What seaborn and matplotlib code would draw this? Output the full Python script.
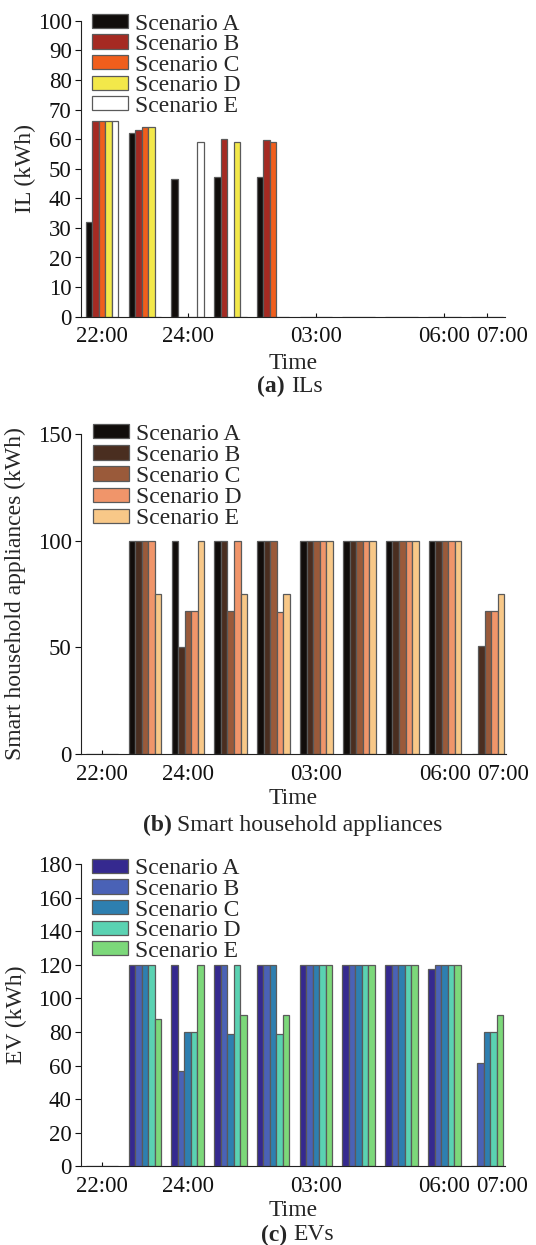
import numpy as np
import pandas as pd
import matplotlib
matplotlib.use("Agg")
import matplotlib.pyplot as plt
import matplotlib.transforms as mtransforms
import seaborn as sns

times = ['22:00', '23:00', '24:00', '01:00', '02:00', '03:00', '04:00', '05:00', '06:00', '07:00']
shown_ticks = ['22:00', '24:00', '03:00', '06:00', '07:00']
scenarios = ['Scenario A', 'Scenario B', 'Scenario C', 'Scenario D', 'Scenario E']

il_A = [32, 62, 46.4, 47.2, 47.2, 0, 0, 0, 0, 0]
il_B = [66, 63, 0, 60, 59.7, 0, 0, 0, 0, 0]
il_C = [66, 64, 0, 0, 59.1, 0, 0, 0, 0, 0]
il_D = [66, 64, 0, 59, 0, 0, 0, 0, 0, 0]
il_E = [66, 0, 59, 0, 0, 0, 0, 0, 0, 0]

sha_A = [0, 100, 100, 100, 100, 100, 100, 100, 100, 0]
sha_B = [0, 100, 50, 100, 100, 100, 100, 100, 100, 50.5]
sha_C = [0, 100, 67, 67, 100, 100, 100, 100, 100, 67]
sha_D = [0, 100, 67, 100, 66.5, 100, 100, 100, 100, 67]
sha_E = [0, 75, 100, 75, 75, 100, 100, 100, 100, 75]

ev_A = [0, 120, 120, 120, 120, 120, 120, 120, 117.6, 0]
ev_B = [0, 120, 56.5, 120, 120, 120, 120, 120, 120, 61.3]
ev_C = [0, 120, 80, 79, 120, 120, 120, 120, 120, 80]
ev_D = [0, 120, 80, 120, 79, 120, 120, 120, 120, 80]
ev_E = [0, 88, 120, 90, 90, 120, 120, 120, 120, 90]

pal_a = ['#110d0b', '#a52a22', '#f05e1c', '#f3e84a', '#ffffff']
pal_b = ['#110d0b', '#4a2e20', '#9a5a3a', '#f0956a', '#f8c888']
pal_c = ['#35298f', '#4a62b6', '#2e7fb0', '#5ad2b2', '#7cd87a']

sns.set_theme(style='ticks')
plt.rcParams['font.family'] = ['Liberation Serif', 'DejaVu Serif']
plt.rcParams['font.size'] = 17

W, H = 536, 1245
FS = 17
TFS = 16.5
fig = plt.figure(figsize=(W / 100, H / 100), dpi=100)


def px_axes(left, top, right, bottom):
    return fig.add_axes([left / W, 1 - bottom / H, (right - left) / W, (bottom - top) / H])


def make_df(series):
    rows = []
    for sc, vals in zip(scenarios, series):
        for t, v in zip(times, vals):
            rows.append({'time': t, 'scenario': sc, 'value': v})
    return pd.DataFrame(rows)


def panel(ax, box, series, pal, ylim, yticks, ylabel, ylab_x, xlab_px, leg_left_px, leg_top_px, lsp):
    left, top, right, bottom = box
    hpx = bottom - top
    wpx = right - left
    df = make_df(series)
    sns.barplot(data=df, x='time', y='value', hue='scenario', order=times,
                hue_order=scenarios, palette=pal, saturation=1, width=0.76,
                edgecolor='#5a5a5a', linewidth=0.9, errorbar=None, ax=ax)
    ax.set_xlim(-0.5, 9.42)
    ax.set_ylim(*ylim)
    ax.set_yticks(yticks)
    pos = [times.index(t) for t in shown_ticks]
    ax.set_xticks(pos)
    ax.set_xticklabels(shown_ticks)
    ax.tick_params(axis='x', direction='in', length=3, width=0.8, pad=7, labelsize=TFS, colors='#111111')
    ax.tick_params(axis='y', direction='out', length=4, width=0.8, pad=2.5, labelsize=TFS, colors='#111111')
    # the last label is nudged right in the reference so it does not touch its neighbour
    last = ax.get_xticklabels()[-1]
    last.set_transform(last.get_transform() + mtransforms.ScaledTranslation(15 / 100, 0, fig.dpi_scale_trans))
    for s in ['top', 'right']:
        ax.spines[s].set_visible(False)
    for s in ['left', 'bottom']:
        ax.spines[s].set_linewidth(0.8)
        ax.spines[s].set_color('#222222')
    ax.set_xlabel('Time', fontsize=FS)
    ax.xaxis.label.set_va('center')
    ax.xaxis.set_label_coords(0.5, (bottom - xlab_px) / hpx)
    ax.set_ylabel(ylabel, fontsize=FS)
    ax.yaxis.label.set_va('center')
    ax.yaxis.set_label_coords(ylab_x, 0.5)
    sns.move_legend(ax, 'upper left',
                    bbox_to_anchor=((leg_left_px - left) / wpx, (bottom - leg_top_px) / hpx),
                    frameon=False, title=None,
                    fontsize=FS, labelspacing=lsp, handlelength=1.53, handleheight=0.56,
                    handletextpad=0.28, borderpad=0, borderaxespad=0)


box1 = (80.7, 20.7, 505, 316.7)
ax1 = px_axes(*box1)
panel(ax1, box1, [il_A, il_B, il_C, il_D, il_E], pal_a, (0, 100), np.arange(0, 101, 10),
      'IL (kWh)', -0.131, 364, 92.3, 13.5, -0.02)

box2 = (80.7, 434, 506, 754)
ax2 = px_axes(*box2)
panel(ax2, box2, [sha_A, sha_B, sha_C, sha_D, sha_E], pal_b, (0, 150), [0, 50, 100, 150],
      'Smart household appliances (kWh)', -0.154, 799, 93.3, 423.5, 0.01)

box3 = (80.7, 864.3, 505, 1166.2)
ax3 = px_axes(*box3)
panel(ax3, box3, [ev_A, ev_B, ev_C, ev_D, ev_E], pal_c, (0, 180), np.arange(0, 181, 20),
      'EV (kWh)', -0.151, 1210, 92.3, 858.5, -0.02)


def caption(xbold_end, xrest_start, y, bold, rest):
    fig.text(xbold_end / W, 1 - y / H, bold, fontsize=FS, fontweight='bold', ha='right', va='center')
    fig.text(xrest_start / W, 1 - y / H, rest, fontsize=FS, ha='left', va='center')


caption(285, 291, 386.7, '(a)', 'ILs')
caption(172, 177, 825, '(b)', 'Smart household appliances')
caption(287, 293, 1235, '(c)', 'EVs')

fig.savefig('out.png', dpi=100)
